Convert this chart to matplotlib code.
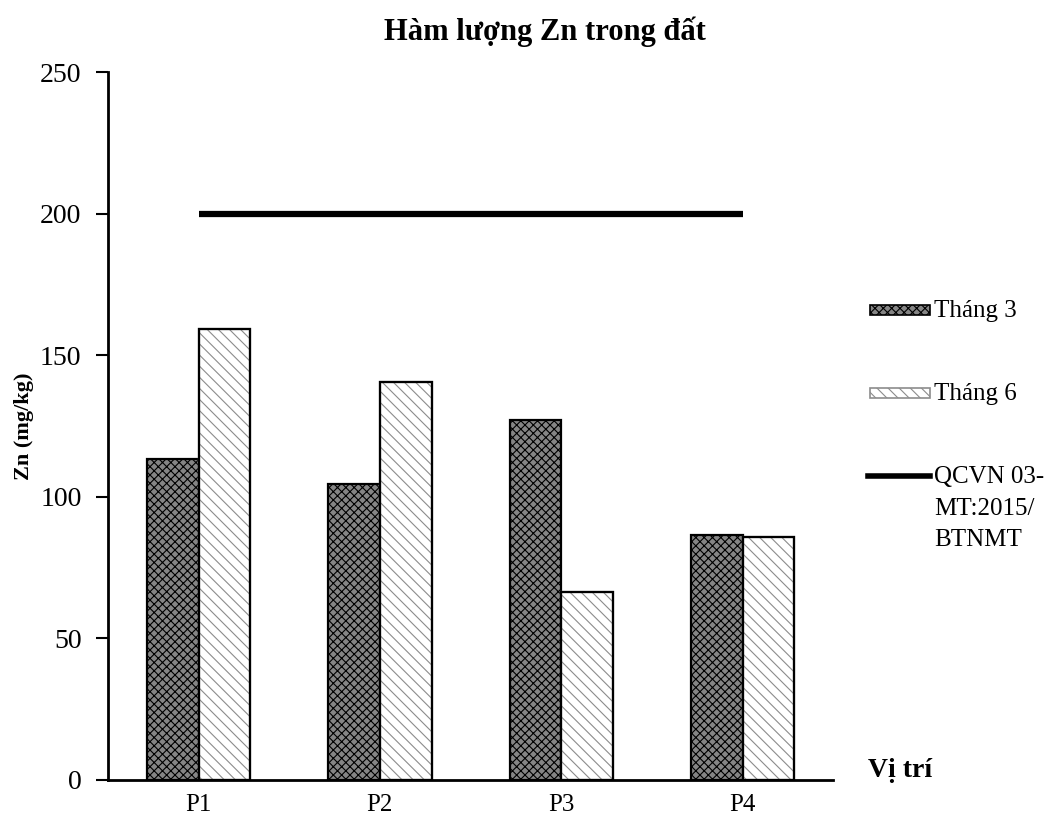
import numpy as np
import matplotlib
matplotlib.use("Agg")
from matplotlib import pyplot as plt
from matplotlib.patches import Rectangle

plt.rcParams['font.family'] = ['Liberation Serif', 'DejaVu Serif']
plt.rcParams['hatch.linewidth'] = 0.8

# Zn content per sampling site
sites = ['P1', 'P2', 'P3', 'P4']
thang3 = [113.5, 104.7, 127.3, 86.7]
thang6 = [159.4, 140.7, 66.3, 85.7]
qcvn_limit = 200

series_labels = ['Tháng 3', 'Tháng 6', 'QCVN 03-\nMT:2015/\nBTNMT']

dark_style = dict(facecolor='#858585', edgecolor='black', hatch='xxxx')
light_style = dict(facecolor='white', edgecolor='#8c8c8c', hatch='\\\\\\')

fig = plt.figure(figsize=(10.48, 8.21), dpi=100)
ax = fig.add_axes([0.103, 0.05, 0.692, 0.862])

x = np.arange(len(sites))
w = 0.285

ax.bar(x - w / 2, thang3, width=w, linewidth=1.6, **dark_style)
ax.bar(x + w / 2, thang6, width=w, linewidth=1.6, **light_style)
# black outline over the light bars
ax.bar(x + w / 2, thang6, width=w, facecolor='none', edgecolor='black',
       linewidth=1.6)
ax.plot(x, [qcvn_limit] * len(x), color='black', linewidth=4.5,
        solid_capstyle='butt')

ax.set_xlim(-0.5, len(sites) - 0.5)
ax.set_ylim(0, 250)
ax.set_yticks(np.arange(0, 251, 50))
ax.set_xticks(x)
ax.set_xticklabels(sites, fontsize=18)
ax.tick_params(axis='x', length=0, pad=10)
ax.tick_params(axis='y', labelsize=20, length=9, width=1.5, direction='out', pad=10)

for side in ['top', 'right']:
    ax.spines[side].set_visible(False)
ax.spines['left'].set_linewidth(2)
ax.spines['bottom'].set_linewidth(2)

ax.set_ylabel('Zn (mg/kg)', fontsize=16, fontweight='bold', labelpad=4)
fig.text(0.52, 0.961, 'Hàm lượng Zn trong đất', ha='center', va='center',
         fontsize=22, fontweight='bold')
fig.text(0.828, 0.062, 'Vị trí', ha='left', va='center',
         fontsize=20, fontweight='bold')

# legend drawn in figure coordinates, handle aligned with the first text line
leg_x0, leg_x1 = 0.830, 0.887
leg_y = [0.6224, 0.5213, 0.4202]
patch_h = 0.013
for yy, style in zip(leg_y[:2], [dark_style, light_style]):
    fig.add_artist(Rectangle((leg_x0, yy - patch_h / 2), leg_x1 - leg_x0, patch_h,
                             transform=fig.transFigure, linewidth=1.2, **style))
fig.add_artist(plt.Line2D([leg_x0 - 0.002, leg_x1], [leg_y[2], leg_y[2]],
                          transform=fig.transFigure, color='black', linewidth=4))
for yy, label in zip(leg_y, series_labels):
    # va='top' with a small lift so the first line sits on the handle
    fig.text(leg_x1 + 0.004, yy + 0.012, label, ha='left', va='top',
             fontsize=18, linespacing=1.55, transform=fig.transFigure)

fig.savefig('out.png', dpi=100)
